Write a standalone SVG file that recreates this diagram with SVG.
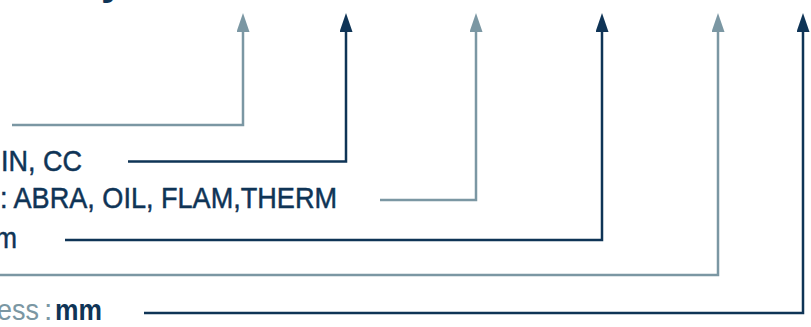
<svg xmlns="http://www.w3.org/2000/svg" width="811" height="327" viewBox="0 0 811 327">
  <style>
    .lbl { font-family: "Liberation Sans", Arial, sans-serif; font-size: 30px; fill: #0f3456; stroke: #0f3456; stroke-width: 0.5px; }
    .light { fill: #7b97a3; stroke: none; }
    .bold { font-weight: bold; stroke: none; }
    .c-light { fill: none; stroke: #7b97a3; stroke-width: 2.5; }
    .c-dark { fill: none; stroke: #0f3456; stroke-width: 2.5; }
  </style>
  <defs>
    <marker id="ah-light" markerUnits="userSpaceOnUse" markerWidth="19" markerHeight="13" refX="1" refY="6.5" orient="auto" viewBox="0 0 19 13">
      <path d="M0,0 L19,6.5 L0,13 Z" fill="#7b97a3"/>
    </marker>
    <marker id="ah-dark" markerUnits="userSpaceOnUse" markerWidth="19" markerHeight="13" refX="1" refY="6.5" orient="auto" viewBox="0 0 19 13">
      <path d="M0,0 L19,6.5 L0,13 Z" fill="#0f3456"/>
    </marker>
  </defs>
  <rect width="811" height="327" fill="#ffffff"/>

  <g id="title">
    <text x="101" y="-6" font-family="'Liberation Sans', Arial, sans-serif" font-size="42" font-weight="bold" fill="#0f3456">y</text>
  </g>

  <g id="connectors">
    <path class="c-light" d="M12,125 H243 V31" marker-end="url(#ah-light)"/>
    <path class="c-dark" d="M128,161.5 H346 V31" marker-end="url(#ah-dark)"/>
    <path class="c-light" d="M380,200 H476 V31" marker-end="url(#ah-light)"/>
    <path class="c-dark" d="M65,240 H602 V31" marker-end="url(#ah-dark)"/>
    <path class="c-light" d="M-2,275 H718 V31" marker-end="url(#ah-light)"/>
    <path class="c-dark" d="M144,313 H803 V31" marker-end="url(#ah-dark)"/>
  </g>

  <g id="label-cc">
    <text class="lbl" x="1" y="171" textLength="81" lengthAdjust="spacingAndGlyphs">IN, CC</text>
  </g>
  <g id="label-abra">
    <text class="lbl" x="0" y="207.5" textLength="337" lengthAdjust="spacingAndGlyphs">: ABRA, OIL, FLAM,THERM</text>
  </g>
  <g id="label-m">
    <text class="lbl" x="-5" y="248" textLength="22" lengthAdjust="spacingAndGlyphs">m</text>
  </g>
  <g id="label-thickness">
    <text class="lbl light" x="-18" y="319.5" textLength="57" lengthAdjust="spacingAndGlyphs">ness</text>
    <text class="lbl light" x="44" y="319.5">:</text>
    <text class="lbl bold" x="55" y="319.5" textLength="47" lengthAdjust="spacingAndGlyphs">mm</text>
  </g>
</svg>
